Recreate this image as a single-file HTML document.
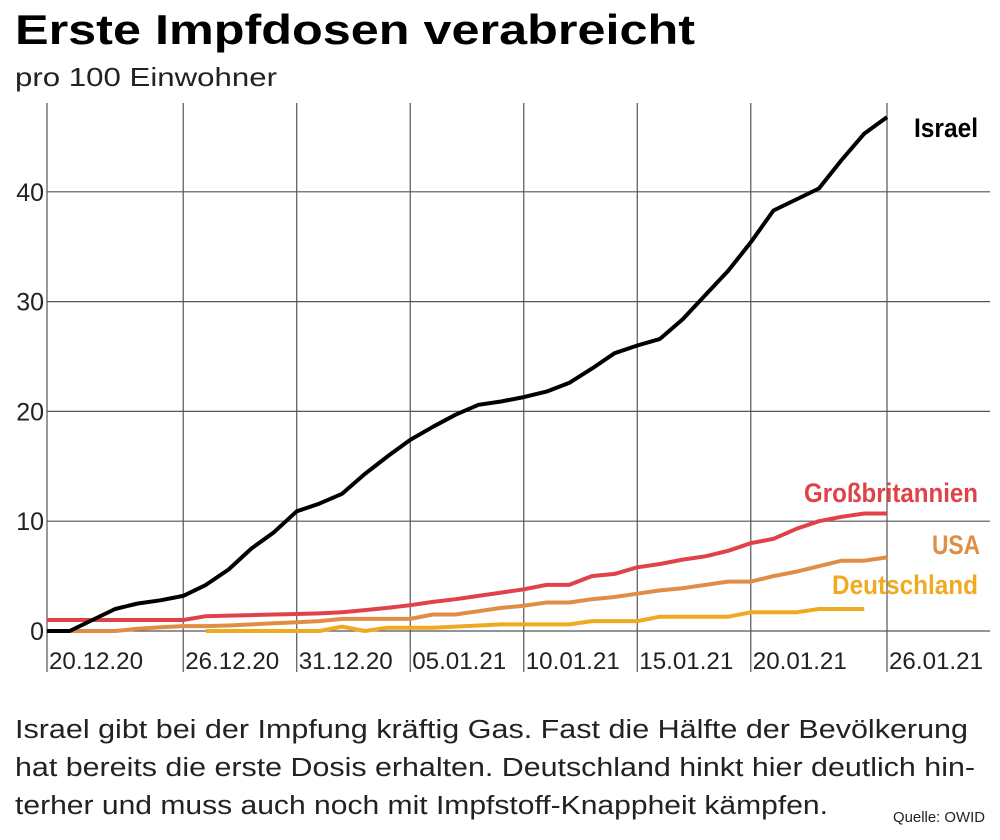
<!DOCTYPE html>
<html><head><meta charset="utf-8"><style>
html,body{margin:0;padding:0;background:#fff;}
svg{display:block;font-family:"Liberation Sans",Arial,sans-serif;}
</style></head><body>
<svg id="chart" width="1000" height="840" viewBox="0 0 1000 840">
<text x="15" y="44" font-size="42" font-weight="bold" textLength="680" lengthAdjust="spacingAndGlyphs">Erste Impfdosen verabreicht</text>
<text x="15" y="86" font-size="26" fill="#222" textLength="262" lengthAdjust="spacingAndGlyphs">pro 100 Einwohner</text>
<g id="grid"></g>
<g id="series"></g>
<text x="978" y="137" font-size="27" font-weight="bold" text-anchor="end" textLength="64" lengthAdjust="spacingAndGlyphs">Israel</text>
<text x="978" y="502" font-size="27" font-weight="bold" fill="#e0424a" text-anchor="end" textLength="174" lengthAdjust="spacingAndGlyphs">Großbritannien</text>
<text x="980" y="554" font-size="27" font-weight="bold" fill="#e08d45" text-anchor="end" textLength="48" lengthAdjust="spacingAndGlyphs">USA</text>
<text x="978" y="594" font-size="27" font-weight="bold" fill="#f0aa22" text-anchor="end" textLength="146" lengthAdjust="spacingAndGlyphs">Deutschland</text>
<g font-size="25.5" fill="#222">
<text x="15" y="738" textLength="953" lengthAdjust="spacingAndGlyphs">Israel gibt bei der Impfung kräftig Gas. Fast die Hälfte der Bevölkerung</text>
<text x="15" y="776" textLength="960" lengthAdjust="spacingAndGlyphs">hat bereits die erste Dosis erhalten. Deutschland hinkt hier deutlich hin-</text>
<text x="15" y="814" textLength="813" lengthAdjust="spacingAndGlyphs">terher und muss auch noch mit Impfstoff-Knappheit kämpfen.</text>
</g>
<text x="985" y="822" font-size="15" fill="#222" text-anchor="end" textLength="92" lengthAdjust="spacingAndGlyphs">Quelle: OWID</text>
</svg>
<script>
const dateLabels = ["20.12.20","26.12.20","31.12.20","05.01.21","10.01.21","15.01.21","20.01.21","26.01.21"];
const dateDays = [0,6,11,16,21,26,31,37];
const yTicks = [0,10,20,30,40];
const israel = [0,0,1.0,2.0,2.5,2.8,3.2,4.2,5.6,7.5,9.0,10.9,11.6,12.5,14.3,15.9,17.4,18.6,19.7,20.6,20.9,21.3,21.8,22.6,23.9,25.3,26.0,26.6,28.4,30.6,32.8,35.4,38.3,39.3,40.3,42.9,45.3,46.8];
const uk = [1.0,1.0,1.0,1.0,1.0,1.0,1.0,1.35,1.4,1.45,1.5,1.55,1.6,1.7,1.9,2.1,2.35,2.65,2.9,3.2,3.5,3.8,4.2,4.2,5.0,5.2,5.8,6.1,6.5,6.8,7.3,8.0,8.4,9.3,10.0,10.4,10.7,10.7];
const usa = [0,0,0,0,0.2,0.35,0.45,0.45,0.5,0.6,0.7,0.8,0.9,1.1,1.1,1.1,1.1,1.5,1.5,1.8,2.1,2.3,2.6,2.6,2.9,3.1,3.4,3.7,3.9,4.2,4.5,4.5,5.0,5.4,5.9,6.4,6.4,6.7];
const germany = [null,null,null,null,null,null,null,0,0,0,0,0,0,0.4,0,0.3,0.3,0.3,0.4,0.5,0.6,0.6,0.6,0.6,0.9,0.9,0.9,1.3,1.3,1.3,1.3,1.7,1.7,1.7,2.0,2.0,2.0];
const NS="http://www.w3.org/2000/svg";
const x0=47, x1=887, maxDay=37, y0=631, yPer=10.98;
const xs = d => x0 + d*(x1-x0)/maxDay;
const ys = v => y0 - v*yPer;
const grid=document.getElementById('grid');
yTicks.forEach(t=>{
  const l=document.createElementNS(NS,'line');
  
  
  l.setAttribute('x1',x0);l.setAttribute('x2',990);l.setAttribute('y1',ys(t));l.setAttribute('y2',ys(t));
  l.setAttribute('stroke','#555');l.setAttribute('stroke-width','1.2');
  grid.appendChild(l);
  const tx=document.createElementNS(NS,'text');
  
  
  tx.setAttribute('x',44);tx.setAttribute('y',ys(t)+9);tx.setAttribute('text-anchor','end');
  tx.setAttribute('font-size','25');tx.setAttribute('fill','#222');
  tx.textContent=t;grid.appendChild(tx);
});
dateDays.forEach((d,i)=>{
  const l=document.createElementNS(NS,'line');
  
  
  l.setAttribute('x1',xs(d));l.setAttribute('x2',xs(d));l.setAttribute('y1',103);l.setAttribute('y2',672);
  l.setAttribute('stroke','#555');l.setAttribute('stroke-width','1.2');
  grid.appendChild(l);
  const tx=document.createElementNS(NS,'text');
  
  
  tx.setAttribute('x',xs(d)+2);tx.setAttribute('y',669);
  tx.setAttribute('font-size','24');tx.setAttribute('fill','#222');
  tx.setAttribute('textLength','94');tx.setAttribute('lengthAdjust','spacingAndGlyphs');
  tx.textContent=dateLabels[i];grid.appendChild(tx);
});
const sg=document.getElementById('series');
function drawLine(arr,color,name){
  let d='';let started=false;
  arr.forEach((v,i)=>{ if(v===null) return; d+=(started?'L':'M')+xs(i).toFixed(1)+','+ys(v).toFixed(1); started=true; });
  const p=document.createElementNS(NS,'path');
  
  
  p.setAttribute('d',d);p.setAttribute('fill','none');p.setAttribute('stroke',color);
  p.setAttribute('stroke-width','4');p.setAttribute('stroke-linejoin','round');
  sg.appendChild(p);
}
drawLine(germany,'#f0aa22','line-germany');
drawLine(usa,'#e08d45','line-usa');
drawLine(uk,'#e0424a','line-uk');
drawLine(israel,'#000','line-israel');
</script>
</body></html>
